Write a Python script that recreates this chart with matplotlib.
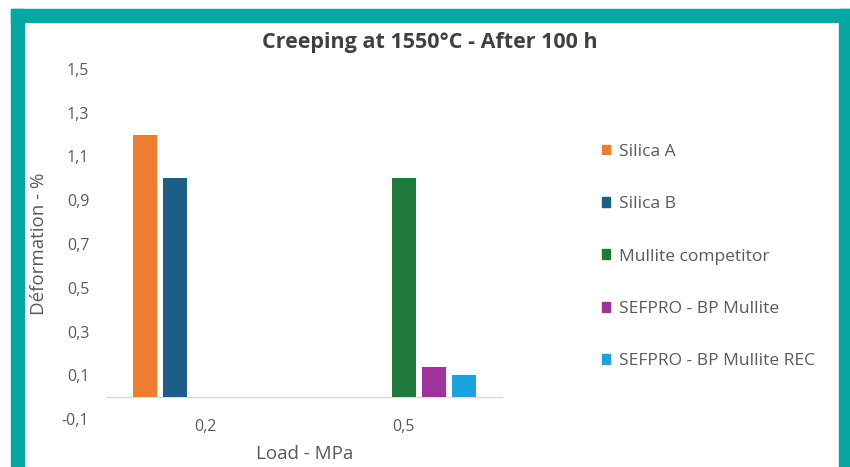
import numpy as np
import matplotlib
matplotlib.use('Agg')
from matplotlib import pyplot as plt
from matplotlib.patches import Rectangle, Patch

plt.rcParams['font.family'] = ['Open Sans', 'DejaVu Sans']

categories = ['0,2', '0,5']
series = ['Silica A', 'Silica B', 'Mullite competitor',
          'SEFPRO - BP Mullite', 'SEFPRO - BP Mullite REC']
silica_a = [1.2, 0]
silica_b = [1.0, 0]
mullite_comp = [0, 1.0]
sefpro_bp = [0, 0.14]
sefpro_rec = [0, 0.10]
yticks = [-0.1, 0.1, 0.3, 0.5, 0.7, 0.9, 1.1, 1.3, 1.5]
ytick_labels = ['-0,1', '0,1', '0,3', '0,5', '0,7', '0,9', '1,1', '1,3', '1,5']

colors = ['#ED7D31', '#1C5F86', '#1F7A3A', '#A0339B', '#1CA3DE']
teal = '#05A8A0'
grey = '#595959'

values = [silica_a, silica_b, mullite_comp, sefpro_bp, sefpro_rec]

fig = plt.figure(figsize=(8.5, 4.67), dpi=100)

# teal frame
fig.patches.append(Rectangle((11/850, 0), 13/850, 1 - 9/467, transform=fig.transFigure,
                             color=teal, zorder=0))
fig.patches.append(Rectangle((11/850, 1 - 22/467), 1 - 11/850, 13/467, transform=fig.transFigure,
                             color=teal, zorder=0))
fig.patches.append(Rectangle((839/850, 0), 11/850, 1 - 9/467, transform=fig.transFigure,
                             color=teal, zorder=0))

ax = fig.add_axes([106/850, 48/467, 397/850, 350/467])
x = np.arange(len(categories))
step = 0.151
width = 0.12
for i, (vals, c) in enumerate(zip(values, colors)):
    ax.bar(x + (i - 2) * step, vals, width, color=c, linewidth=0, zorder=2)

ax.axhline(0, color='#D9D9D9', lw=1, zorder=1)
ax.set_xlim(-0.5, 1.5)
ax.set_ylim(-0.1, 1.5)
ax.set_yticks(yticks)
ax.set_yticklabels(ytick_labels)
ax.set_xticks(x)
ax.set_xticklabels(categories)
for s in ax.spines.values():
    s.set_visible(False)
ax.tick_params(axis='y', length=0, pad=12, labelsize=11.5, labelcolor=grey)
ax.tick_params(axis='x', length=0, pad=0, labelsize=11.5, labelcolor=grey)
ax.set_ylabel('Déformation - %', fontsize=13.5, color=grey, labelpad=10)
ax.set_xlabel('Load - MPa', fontsize=13.5, color=grey, labelpad=7)

fig.text(0.506, 0.91, 'Creeping at 1550°C - After 100 h', ha='center', va='center',
         fontsize=15.5, fontweight='bold', color='#404040')

handles = [Patch(color=c, label=s) for c, s in zip(colors, series)]
fig.legend(handles=handles, loc='upper left', bbox_to_anchor=(586/850, 1 - 128/467),
           frameon=False, fontsize=12.5, labelcolor=grey, handlelength=0.5,
           handleheight=0.5, handletextpad=0.5, labelspacing=2.1)

plt.savefig('out.png', dpi=100)
